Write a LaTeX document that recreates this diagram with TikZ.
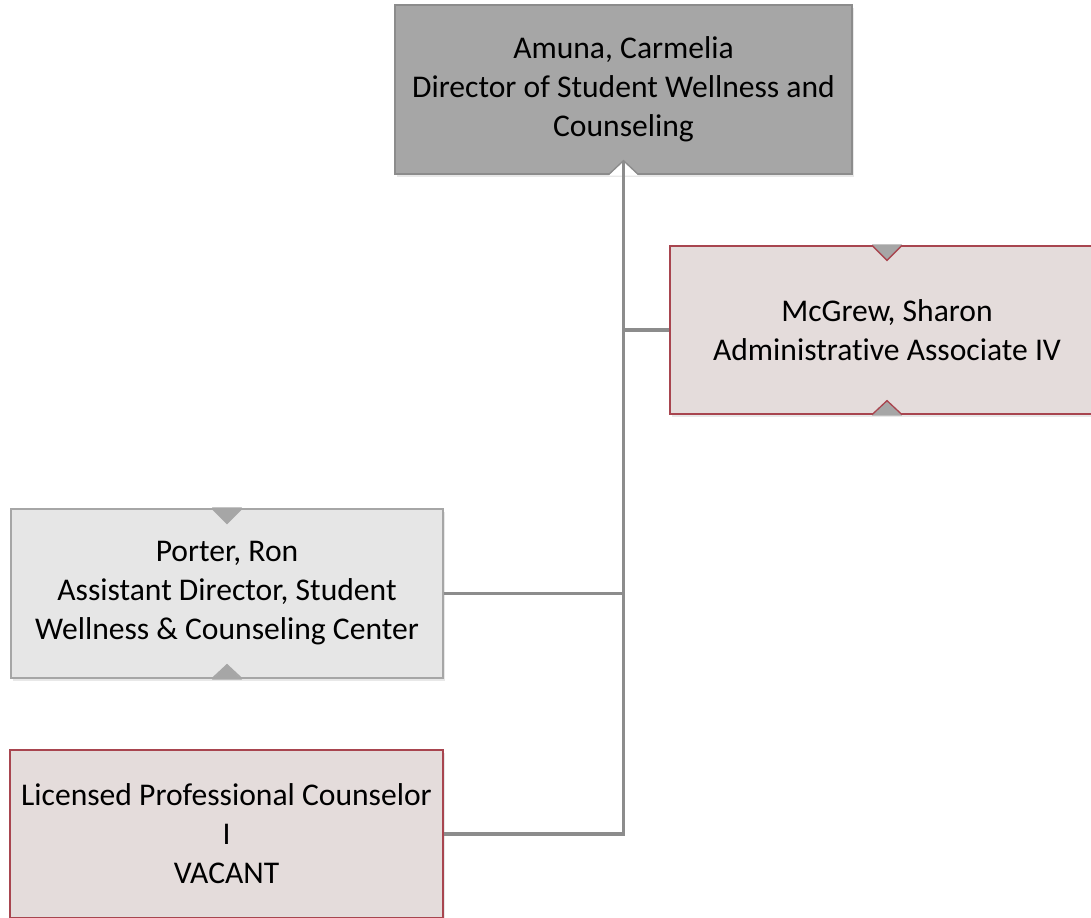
\documentclass[tikz,border=0pt]{standalone}
\usepackage{fontspec}
\setmainfont{Carlito}[Ligatures=NoCommon]
\usepackage{xcolor}
\usetikzlibrary{calc,shadows}
\definecolor{orgline}{HTML}{8C8C8C}
\definecolor{orgdark}{HTML}{A6A6A6}
\definecolor{orglight}{HTML}{E6E6E6}
\definecolor{orgpink}{HTML}{E4DCDB}
\definecolor{orgred}{HTML}{A8454F}
\tikzset{
  orgbox/.style={draw, line width=1pt, align=center, inner sep=2pt,
    font=\fontsize{23.7}{29.2}\selectfont,
    drop shadow={shadow xshift=1.5pt, shadow yshift=-2pt, opacity=0.18}},
  headbox/.style={orgbox, fill=orgdark, draw=orgline},
  greybox/.style={orgbox, fill=orglight, draw=orgdark},
  pinkbox/.style={orgbox, fill=orgpink, draw=orgred},
  link/.style={draw=orgline, line width=2.3pt, line join=miter}
}
% notches of the org chart shapes: #1 node, #2 fill, #3 edge colour
\newcommand{\notchtop}[3]{%
  \fill[#2] ($(#1.north)+(-15,-1)$) -- ($(#1.north)+(15,-1)$) -- ($(#1.north)+(0,15)$) -- cycle;
  \draw[#3, line width=1pt] ($(#1.north)+(-15,0)$) -- ($(#1.north)+(0,15)$) -- ($(#1.north)+(15,0)$);}
\newcommand{\notchbot}[3]{%
  \fill[#2] ($(#1.south)+(-15,1)$) -- ($(#1.south)+(15,1)$) -- ($(#1.south)+(0,-14)$) -- cycle;
  \draw[#3, line width=1pt] ($(#1.south)+(-15,0)$) -- ($(#1.south)+(0,-14)$) -- ($(#1.south)+(15,0)$);}

\begin{document}
\begin{tikzpicture}[x=0.75pt,y=-0.75pt]
\useasboundingbox (0,0) rectangle (1091,917);
\node[headbox, minimum width=342.75pt, minimum height=126.75pt] (amuna) at (623.5,89.5)
  {Amuna, Carmelia\\Director of Student Wellness and\\Counseling};
\node[pinkbox, minimum width=325.5pt, minimum height=126pt] (mcgrew) at (887,330)
  {McGrew, Sharon\\Administrative Associate IV};
\node[greybox, minimum width=324pt, minimum height=126.75pt] (porter) at (227,593.5)
  {Porter, Ron\\Assistant Director, Student\\Wellness \& Counseling Center};
\node[pinkbox, minimum width=324.75pt, minimum height=126pt] (lpc) at (226.5,834)
  {Licensed Professional Counselor\\I\\VACANT};
\notchbot{amuna}{white}{orgline}
\notchtop{mcgrew}{orgdark}{orgred}
\notchbot{mcgrew}{orgdark}{orgred}
\notchtop{porter}{orgdark}{orgdark}
\notchbot{porter}{orgdark}{orgdark}
\coordinate (amunatip) at ($(amuna.south)+(0,-13)$);
\draw[link] (amunatip) |- (lpc.east);
\draw[link] (mcgrew.west) -- (amunatip |- mcgrew.west);
\draw[link] (porter.east) -- (amunatip |- porter.east);
\end{tikzpicture}
\end{document}
